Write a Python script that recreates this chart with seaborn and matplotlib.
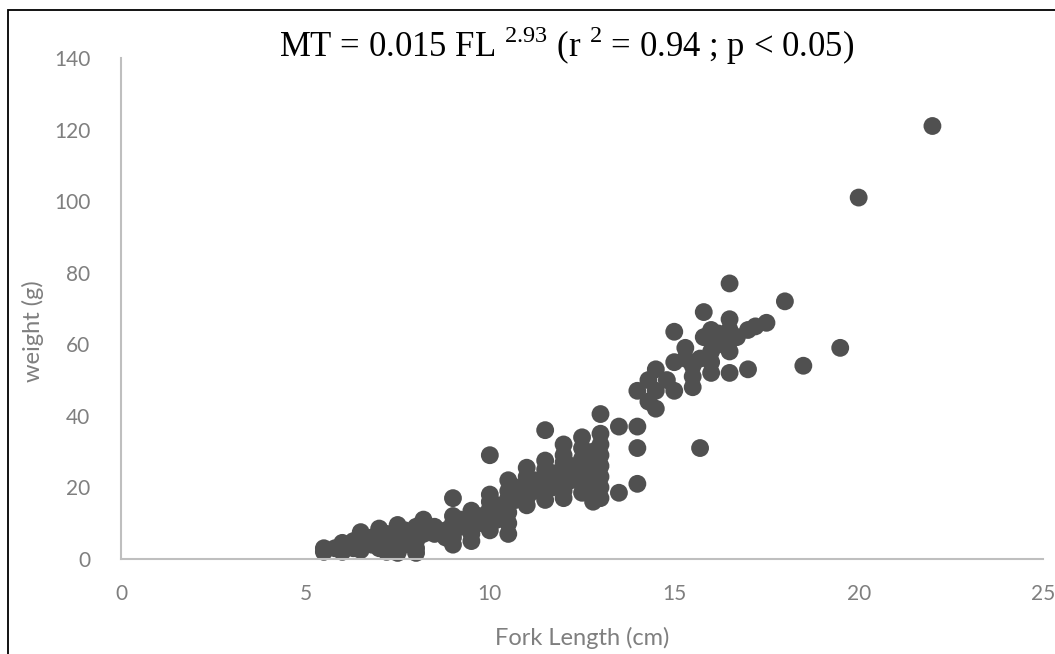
import pandas as pd
import matplotlib
matplotlib.use("Agg")
import matplotlib.pyplot as plt
from matplotlib.patches import Rectangle
import seaborn as sns

# fork length (cm) and weight (g)
fork_length = [
    5.5, 5.5, 5.8, 6.0, 6.0, 6.0, 6.3, 6.3, 6.5, 6.5, 6.5, 6.8, 6.8,
    7.0, 7.0, 7.0, 7.0, 7.2, 7.2, 7.2, 7.5, 7.5, 7.5, 7.5, 7.5, 7.7, 7.7, 7.7,
    8.0, 8.0, 8.0, 8.0, 8.0, 8.2, 8.2, 8.2, 8.5, 8.5, 8.8, 8.8,
    9.0, 9.0, 9.0, 9.0, 9.0, 9.0, 9.2, 9.2, 9.5, 9.5, 9.5, 9.5, 9.5, 9.7, 9.7,
    10.0, 10.0, 10.0, 10.0, 10.0, 10.0, 10.0, 10.2, 10.2,
    10.5, 10.5, 10.5, 10.5, 10.5, 10.5, 10.5, 10.7, 10.7,
    11.0, 11.0, 11.0, 11.0, 11.0, 11.0, 11.2, 11.2,
    11.5, 11.5, 11.5, 11.5, 11.5, 11.5, 11.5, 11.7, 11.7,
    12.0, 12.0, 12.0, 12.0, 12.0, 12.0, 12.0, 12.0, 12.2, 12.2,
    12.5, 12.5, 12.5, 12.5, 12.5, 12.5, 12.5,
    12.8, 12.8, 12.8, 12.8, 12.8,
    13.0, 13.0, 13.0, 13.0, 13.0, 13.0, 13.0, 13.0,
    13.5, 13.5, 14.0, 14.0, 14.0, 14.0, 14.3, 14.3, 14.5, 14.5, 14.5, 14.8,
    15.0, 15.0, 15.0, 15.3, 15.3, 15.5, 15.5, 15.5, 15.7, 15.7, 15.8, 15.8,
    16.0, 16.0, 16.0, 16.0, 16.0, 16.2, 16.2,
    16.5, 16.5, 16.5, 16.5, 16.5, 16.5, 16.7, 17.0, 17.0, 17.2, 17.5,
    18.0, 18.5, 19.5, 20.0, 22.0,
]
weight = [
    3, 2, 3, 4.5, 2, 3, 5, 3, 7.5, 5, 2.5, 6, 4,
    8.5, 6, 4, 3, 7, 5, 2, 9.5, 7, 5, 3, 1.7, 8, 6, 4,
    9, 7, 5, 3, 1.7, 11, 9, 7, 9, 7, 8, 6,
    17, 12, 10, 8, 6, 4, 11, 9, 13.5, 11, 9, 7, 5, 12, 10,
    29, 18, 16, 14, 12, 10, 8, 15, 11,
    22, 19, 17, 15, 13, 10, 7, 20, 16.5,
    25.5, 23, 21, 19, 17, 15, 22, 19,
    36, 27.5, 25, 23, 21, 19, 16.5, 24, 20,
    32, 29, 27, 25, 23, 21, 19, 17, 26, 22,
    34, 31, 28, 25, 23, 21, 18.5,
    30, 26, 22, 19, 16,
    40.5, 35, 32, 29, 26, 23, 20, 17,
    37, 18.5, 47, 37, 31, 21, 50, 44, 53, 47, 42, 50,
    63.5, 47, 55, 59, 56, 54, 48, 51, 56, 31, 69, 62,
    64, 61, 58, 55, 52, 63, 60,
    77, 67, 64, 61, 58, 52, 62, 64, 53, 65, 66,
    72, 54, 59, 101, 121,
]

x_ticks = [0, 5, 10, 15, 20, 25]
y_ticks = [0, 20, 40, 60, 80, 100, 120, 140]

df = pd.DataFrame({"fork_length": fork_length, "weight": weight})

sns.set_style("white")
plt.rcParams["font.family"] = ["Lato", "DejaVu Sans"]
plt.rcParams["mathtext.fontset"] = "custom"
plt.rcParams["mathtext.rm"] = "Liberation Serif"

fig = plt.figure(figsize=(10.55, 6.54), dpi=100)
ax = fig.add_axes([0.1147, 0.1453, 0.874, 0.766])

sns.scatterplot(data=df, x="fork_length", y="weight", ax=ax,
                color="#505050", s=165, edgecolor="none", linewidth=0,
                clip_on=False)

ax.set_xlim(0, 25)
ax.set_ylim(0, 140)
ax.set_xticks(x_ticks)
ax.set_yticks(y_ticks)
ax.tick_params(length=0, labelsize=15, labelcolor="#7f7f7f")
ax.tick_params(axis="x", pad=18)
ax.tick_params(axis="y", pad=22)

for side in ["top", "right"]:
    ax.spines[side].set_visible(False)
for side in ["left", "bottom"]:
    ax.spines[side].set_color("#bfbfbf")
    ax.spines[side].set_linewidth(1.5)

ax.set_xlabel("Fork Length (cm)", fontsize=17, color="#7f7f7f")
ax.set_ylabel("weight (g)", fontsize=17, color="#7f7f7f")
ax.xaxis.set_label_coords(0.5, -0.135)
ax.yaxis.set_label_coords(-0.083, 0.455)

fig.text(0.537, 0.93,
         r"MT = 0.015 FL $^{2.93}$ (r $^{2}$ = 0.94 ; p < 0.05)",
         family="Liberation Serif", fontsize=25, color="black",
         ha="center", va="center")

# black frame on the left and top edges
fig.patches.append(Rectangle((8 / 1055, -0.1), 1.2, 1.1 - 10 / 654,
                             transform=fig.transFigure, fill=False,
                             edgecolor="black", linewidth=1.3))

fig.savefig("out.png", dpi=100)
